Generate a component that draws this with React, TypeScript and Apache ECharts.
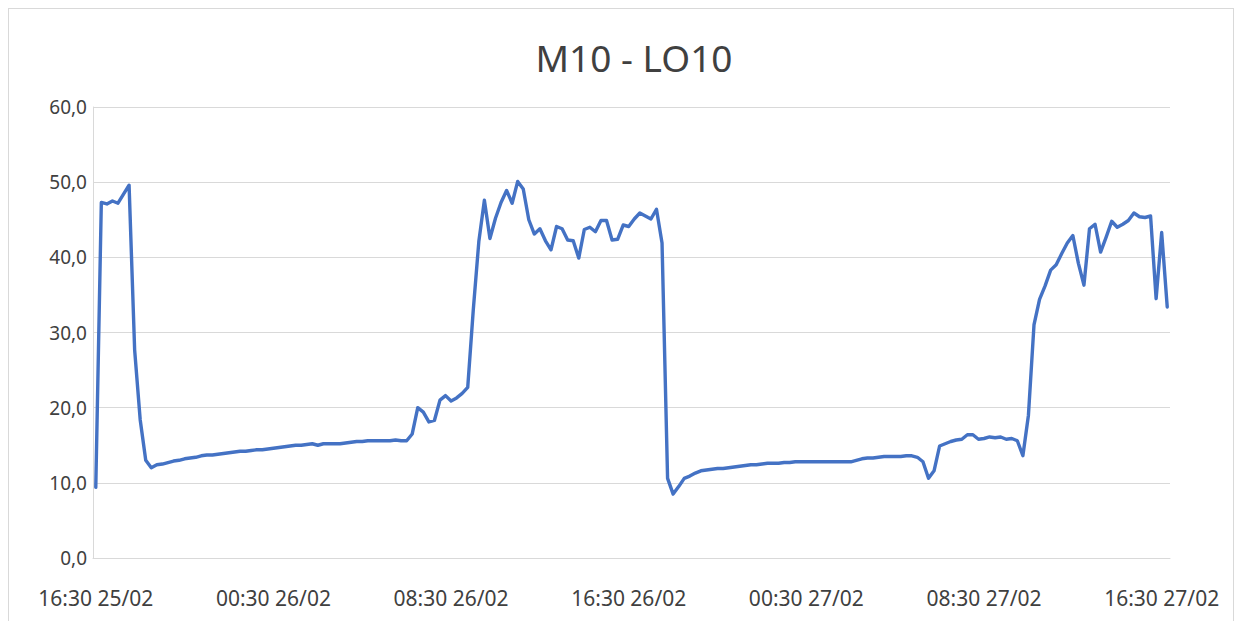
import React, { useEffect, useRef } from "react";
import * as echarts from "echarts";

const TITLE = "M10 - LO10";

// 15-minute readings from 16:30 25/02 to 16:45 27/02
const values: number[] = [
  9.4, 47.3, 47.1, 47.5, 47.2, 48.4, 49.6, 27.7, 18.4, 13.0,
  12.0, 12.4, 12.5, 12.7, 12.9, 13.0, 13.2, 13.3, 13.4, 13.6,
  13.7, 13.7, 13.8, 13.9, 14.0, 14.1, 14.2, 14.2, 14.3, 14.4,
  14.4, 14.5, 14.6, 14.7, 14.8, 14.9, 15.0, 15.0, 15.1, 15.2,
  15.0, 15.2, 15.2, 15.2, 15.2, 15.3, 15.4, 15.5, 15.5, 15.6,
  15.6, 15.6, 15.6, 15.6, 15.7, 15.6, 15.6, 16.5, 20.0, 19.4,
  18.1, 18.3, 21.0, 21.6, 20.9, 21.3, 21.9, 22.7, 33.0, 42.1,
  47.6, 42.5, 45.2, 47.3, 48.9, 47.2, 50.1, 49.1, 45.0, 43.1,
  43.8, 42.2, 41.0, 44.1, 43.8, 42.3, 42.2, 39.9, 43.7, 44.0,
  43.4, 44.9, 44.9, 42.3, 42.4, 44.3, 44.1, 45.1, 45.9, 45.5,
  45.1, 46.4, 41.9, 10.6, 8.5, 9.5, 10.6, 10.9, 11.3, 11.6,
  11.7, 11.8, 11.9, 11.9, 12.0, 12.1, 12.2, 12.3, 12.4, 12.4,
  12.5, 12.6, 12.6, 12.6, 12.7, 12.7, 12.8, 12.8, 12.8, 12.8,
  12.8, 12.8, 12.8, 12.8, 12.8, 12.8, 12.8, 13.0, 13.2, 13.3,
  13.3, 13.4, 13.5, 13.5, 13.5, 13.5, 13.6, 13.6, 13.4, 12.8,
  10.6, 11.6, 14.9, 15.2, 15.5, 15.7, 15.8, 16.4, 16.4, 15.8,
  15.9, 16.1, 16.0, 16.1, 15.8, 15.9, 15.6, 13.6, 19.0, 31.0,
  34.4, 36.2, 38.3, 39.0, 40.5, 41.9, 42.9, 39.2, 36.3, 43.8,
  44.4, 40.7, 42.7, 44.8, 44.0, 44.4, 44.9, 45.9, 45.4, 45.3,
  45.5, 34.5, 43.3, 33.4,
];

// category labels: 15-minute steps starting 16:30 25/02
const START_DAY = 25;
const START_MONTH = 2;
const START_MINUTES = 16 * 60 + 30;
const STEP_MINUTES = 15;
const pad = (n: number) => String(n).padStart(2, "0");
const categories: string[] = values.map((_, i) => {
  const total = START_MINUTES + i * STEP_MINUTES;
  const day = START_DAY + Math.floor(total / 1440);
  const m = total % 1440;
  return `${pad(Math.floor(m / 60))}:${pad(m % 60)} ${pad(day)}/${pad(START_MONTH)}`;
});

const Y_MIN = 0;
const Y_MAX = 60;
const Y_STEP = 10;
const LABEL_EVERY = 32;

export default function App() {
  const ref = useRef<HTMLDivElement>(null);
  useEffect(() => {
    if (!ref.current) return;
    const chart = echarts.init(ref.current, undefined, { renderer: "svg" });
    const font = "'Noto Sans', 'Liberation Sans', sans-serif";
    chart.setOption({
      animation: false,
      title: {
        text: TITLE,
        left: 620,
        textAlign: "center",
        top: 25,
        textStyle: { fontSize: 37, fontWeight: "normal", color: "#404040", fontFamily: font },
      },
      grid: { left: 84, right: 63, top: 98, bottom: 63, containLabel: false },
      xAxis: {
        type: "category",
        data: categories,
        boundaryGap: true,
        axisLine: { lineStyle: { color: "#d9d9d9", width: 1 } },
        axisTick: { show: false },
        axisLabel: {
          interval: (i: number) => i % LABEL_EVERY === 0,
          margin: 29,
          fontSize: 21,
          color: "#404040",
          fontFamily: font,
          hideOverlap: false,
        },
        splitLine: { show: false },
      },
      yAxis: {
        type: "value",
        min: Y_MIN,
        max: Y_MAX,
        interval: Y_STEP,
        axisLine: { show: true, lineStyle: { color: "#d9d9d9", width: 1 } },
        axisTick: { show: false },
        axisLabel: {
          margin: 6,
          fontSize: 19,
          color: "#404040",
          fontFamily: font,
          formatter: (v: number) => v.toFixed(1).replace(".", ","),
        },
        splitLine: { lineStyle: { color: "#d9d9d9", width: 1 } },
      },
      series: [
        {
          type: "line",
          data: values,
          showSymbol: false,
          lineStyle: { color: "#4472C4", width: 3.4, join: "round", cap: "round" },
          itemStyle: { color: "#4472C4" },
        },
      ],
    });
    return () => chart.dispose();
  }, []);
  return (
    <div style={{ border: "1px solid #d9d9d9", width: 1224, height: 612, borderBottom: "none" }}>
      <div ref={ref} style={{ width: 1224, height: 612 }} />
    </div>
  );
}
